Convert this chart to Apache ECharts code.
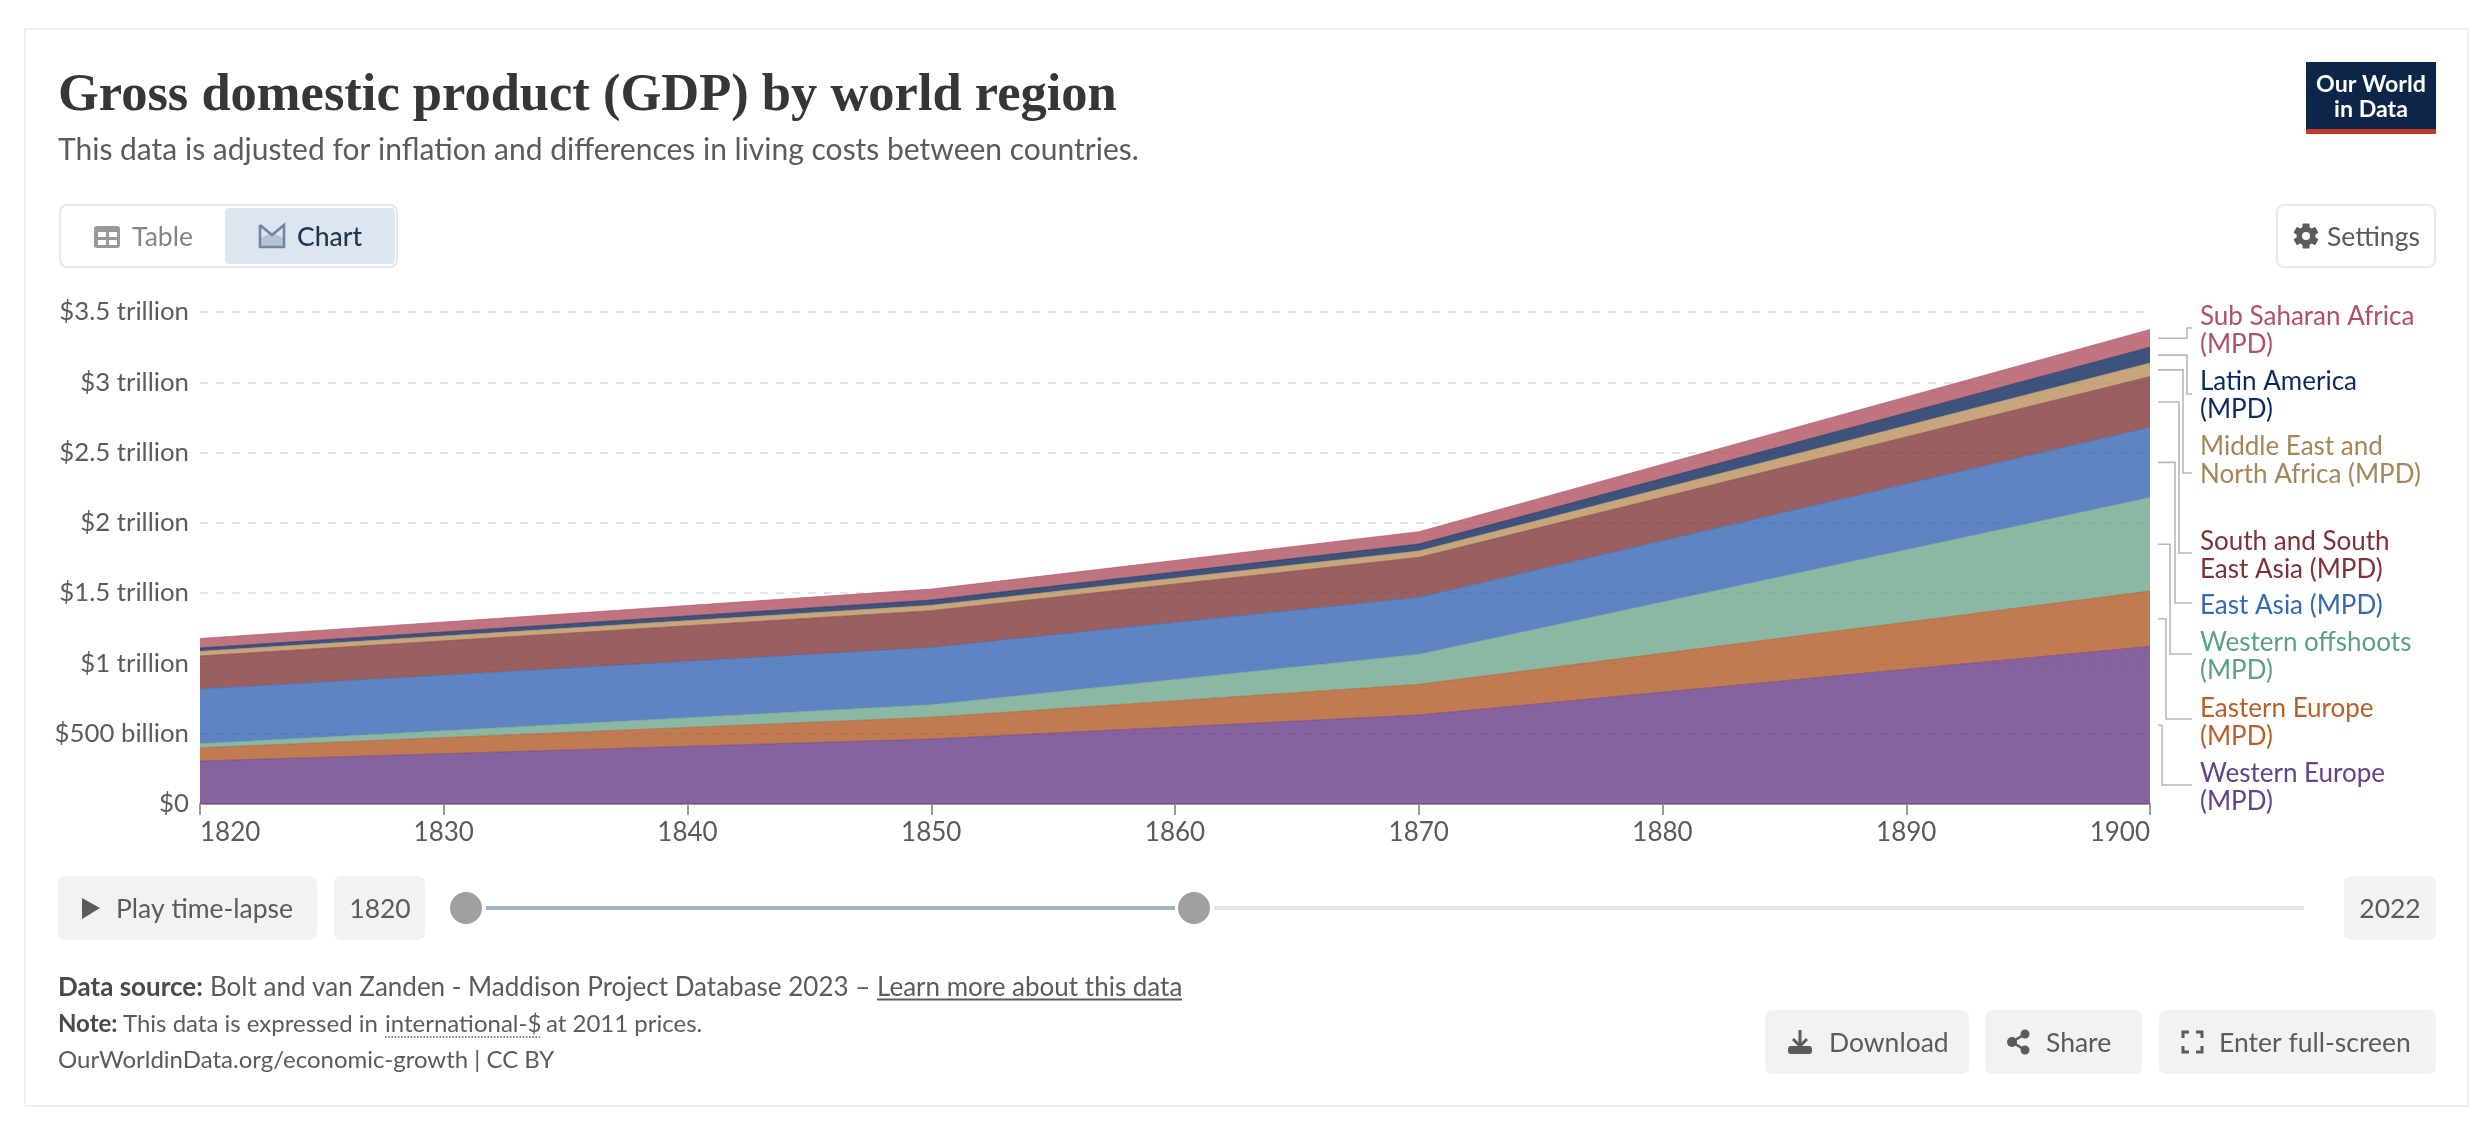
<!DOCTYPE html>
<html style="height: 100%">
<head>
<meta charset="utf-8">
<script src="https://cdn.jsdelivr.net/npm/echarts@6/dist/echarts.min.js"></script>
</head>
<body style="height: 100%; margin: 0; background: #fff">
<div id="container" style="height: 100%"></div>
<script type="text/javascript">
// values in billion international-$
var years = ['1820-01-01', '1850-01-01', '1870-01-01', '1900-01-01'];
var westernEurope = [306, 462, 633, 1121];
var easternEurope = [94, 155, 218, 394];
var westernOffshoots = [29, 89, 214, 665];
var eastAsia = [389, 408, 405, 500];
var southAsia = [235, 261, 284, 360];
var middleEast = [33, 38, 46, 97];
var latinAmerica = [24, 38, 49, 113];
var subSaharan = [68, 78, 88, 126];
var yTickLabels = ['$0', '$500 billion', '$1 trillion', '$1.5 trillion', '$2 trillion', '$2.5 trillion', '$3 trillion', '$3.5 trillion'];

var stackOrder = [
    { name: 'Western Europe (MPD)', lines: ['Western Europe', '(MPD)'], values: westernEurope, fill: '#663C86', text: '#65408E', base: 781, elbow: 2162, end: 785 },
    { name: 'Eastern Europe (MPD)', lines: ['Eastern Europe', '(MPD)'], values: easternEurope, fill: '#B05A27', text: '#B8602A', base: 716, elbow: 2166, end: 719 },
    { name: 'Western offshoots (MPD)', lines: ['Western offshoots', '(MPD)'], values: westernOffshoots, fill: '#6DA68C', text: '#5CA083', base: 650, elbow: 2170, end: 654 },
    { name: 'East Asia (MPD)', lines: ['East Asia (MPD)'], values: eastAsia, fill: '#3765B3', text: '#3568B0', base: 613, elbow: 2175, end: 603 },
    { name: 'South and South East Asia (MPD)', lines: ['South and South', 'East Asia (MPD)'], values: southAsia, fill: '#7F373A', text: '#7E3238', base: 549, elbow: 2179, end: 553 },
    { name: 'Middle East and North Africa (MPD)', lines: ['Middle East and', 'North Africa (MPD)'], values: middleEast, fill: '#B98F5C', text: '#A68558', base: 454, elbow: 2183, end: 473 },
    { name: 'Latin America (MPD)', lines: ['Latin America', '(MPD)'], values: latinAmerica, fill: '#0E285B', text: '#0A2A5E', base: 389, elbow: 2187, end: 394 },
    { name: 'Sub Saharan Africa (MPD)', lines: ['Sub Saharan Africa', '(MPD)'], values: subSaharan, fill: '#B05160', text: '#AE5266', base: 324, elbow: 2187, end: 328 }
];

var GREY = '#5b5b5b';
var FONT = 'Lato';

var myChart = echarts.init(document.getElementById('container'));

myChart.setOption({
    animation: false,
    backgroundColor: '#fff',
    grid: { left: 200, right: 342, top: 312, bottom: 318 },
    xAxis: [{
        // visible year axis
        type: 'value',
        position: 'bottom',
        min: 1820,
        max: 1900,
        interval: 10,
        splitLine: { show: false },
        axisLine: { show: true, onZero: false, lineStyle: { color: '#999', width: 2 } },
        axisTick: { show: true, length: 11, lineStyle: { color: '#999', width: 2 } },
        axisLabel: {
            color: GREY, fontFamily: FONT, fontSize: 26, margin: 16,
            alignMinLabel: 'left', alignMaxLabel: 'right',
            formatter: function (v) { return String(v); }
        }
    }, {
        // hidden time axis over the same span, stacking only works on the y values with this one
        type: 'time',
        position: 'top',
        show: false,
        min: years[0],
        max: years[years.length - 1]
    }],
    yAxis: {
        type: 'value',
        min: 0,
        max: 3500,
        interval: 500,
        axisLine: { show: false },
        axisTick: { show: false },
        splitLine: { lineStyle: { color: '#ddd', width: 1.6, type: [8, 8] } },
        axisLabel: {
            color: GREY, fontFamily: FONT, fontSize: 25.8, margin: 11, padding: [2, 0, 0, 0],
            formatter: function (v) { return yTickLabels[v / 500]; }
        }
    },
    series: stackOrder.map(function (s) {
        return {
            name: s.name,
            type: 'line',
            stack: 'gdp',
            xAxisIndex: 1,
            showSymbol: false,
            data: s.values.map(function (v, i) { return [years[i], v]; }),
            lineStyle: { color: s.fill, width: 1, opacity: 0.6 },
            itemStyle: { color: s.fill },
            areaStyle: { color: s.fill, opacity: 0.8 }
        };
    })
});

function box(x, y, w, h, fill, stroke, r) {
    return {
        type: 'rect', silent: true,
        shape: { x: x, y: y, width: w, height: h, r: r || 0 },
        style: { fill: fill || 'none', stroke: stroke || 'none', lineWidth: stroke ? 2 : 0 }
    };
}
function label(x, baseline, str, size, color, weight, align, family) {
    return {
        type: 'text', silent: true, x: x, y: baseline - size * 0.3,
        style: {
            text: str, fill: color || GREY,
            font: (weight || 400) + ' ' + size + 'px "' + (family || FONT) + '"',
            align: align || 'left', verticalAlign: 'middle'
        }
    };
}
function poly(points, color, width, dash) {
    return {
        type: 'polyline', silent: true, shape: { points: points },
        style: { stroke: color, lineWidth: width, fill: 'none', lineDash: dash || null }
    };
}
function dot(cx, cy, r, fill) {
    return { type: 'circle', silent: true, shape: { cx: cx, cy: cy, r: r }, style: { fill: fill } };
}
function tooth(cx, cy, angle) {
    return {
        type: 'rect', silent: true, x: cx, y: cy, rotation: angle,
        shape: { x: -3.5, y: -12.5, width: 7, height: 25, r: 1 }, style: { fill: GREY }
    };
}

var items = [];

// frame and header
var frame = box(25, 29, 2443, 1077, '#fff', '#f0f0f0');
frame.z = -10;
items.push(frame);
items.push(label(58, 112, 'Gross domestic product (GDP) by world region', 52.5, '#363636', 700, 'left', 'Liberation Serif'));
items.push(label(58, 159, 'This data is adjusted for inflation and differences in living costs between countries.', 30, GREY));

// logo
items.push(box(2306, 62, 130, 72, '#0D2548'));
items.push(box(2306, 129, 130, 5, '#BC3B2D'));
items.push(label(2371, 91, 'Our World', 23.2, '#fff', 700, 'center'));
items.push(label(2371, 116, 'in Data', 23.2, '#fff', 700, 'center'));

// table / chart tabs
items.push(box(60, 205, 337, 62, '#fff', '#e7e7e7', 7));
items.push(box(225, 208, 170, 56, '#DDE5EF', null, 4));
items.push(box(94, 226, 26, 22, '#999', null, 3));
items.push(box(98, 232, 8, 5, '#fff'), box(109, 232, 8, 5, '#fff'), box(98, 240, 8, 5, '#fff'), box(109, 240, 8, 5, '#fff'));
items.push(label(132, 245, 'Table', 26.5, '#858585'));
items.push(poly([[260, 225], [260, 247], [284, 247], [284, 225], [272, 235], [260, 225]], '#6f86a8', 2.6));
items.push({ type: 'polygon', silent: true, shape: { points: [[260, 247], [284, 247], [284, 238], [272, 233], [260, 238]] }, style: { fill: '#6f86a8', opacity: 0.35 } });
items.push(label(297, 245, 'Chart', 26.5, '#1D3557', 500));

// settings
items.push(box(2277, 205, 158, 62, '#fff', '#e7e7e7', 7));
items.push(tooth(2306, 236, 0), tooth(2306, 236, Math.PI / 3), tooth(2306, 236, -Math.PI / 3));
items.push(dot(2306, 236, 9.5, GREY), dot(2306, 236, 4, '#fff'));
items.push(label(2327, 245, 'Settings', 26.5));

// time-lapse controls
items.push(box(58, 876, 259, 64, '#f2f2f2', null, 7));
items.push({ type: 'polygon', silent: true, shape: { points: [[82, 898], [100, 908], [82, 919]] }, style: { fill: GREY } });
items.push(label(116, 917, 'Play time-lapse', 26.5));
items.push(box(334, 876, 91, 64, '#f2f2f2', null, 7));
items.push(label(380, 917, '1820', 26.5, GREY, 400, 'center'));
items.push(box(486, 906, 689, 4, '#A3B3C9'));
items.push(box(1214, 906, 1090, 4, '#e7e7e7'));
items.push(dot(466, 908, 16, '#a0a0a0'), dot(1194, 908, 16, '#a0a0a0'));
items.push(box(2344, 876, 92, 64, '#f2f2f2', null, 7));
items.push(label(2390, 917, '2022', 26.5, GREY, 400, 'center'));

// footer text
items.push(label(58, 995, 'Data source:', 26, '#4a4a4a', 700));
items.push(label(210, 995, 'Bolt and van Zanden - Maddison Project Database 2023 \u2013', 26));
items.push(label(877, 995, 'Learn more about this data', 26));
items.push(box(877, 998.5, 305, 2, GREY));
items.push(label(58, 1031, 'Note:', 24, '#4a4a4a', 700));
items.push(label(123, 1031, 'This data is expressed in', 24));
items.push(label(385, 1031, 'international-$', 24));
items.push(poly([[385, 1037], [540, 1037]], GREY, 1.6, [1.6, 1.6]));
items.push(label(546, 1031, 'at 2011 prices.', 24));
items.push(label(58, 1067, 'OurWorldinData.org/economic-growth | CC BY', 24));

// footer buttons
items.push(box(1765, 1010, 204, 64, '#f2f2f2', null, 7));
items.push(poly([[1800, 1030], [1800, 1046]], GREY, 3), poly([[1793, 1039], [1800, 1046], [1807, 1039]], GREY, 3));
items.push(box(1788, 1046, 24, 8, GREY, null, 3));
items.push(label(1829, 1051, 'Download', 26.5));
items.push(box(1985, 1010, 157, 64, '#f2f2f2', null, 7));
items.push(poly([[2025, 1034], [2012, 1042], [2025, 1050]], GREY, 2.6));
items.push(dot(2025, 1034, 4.5, GREY), dot(2012, 1042, 5, GREY), dot(2025, 1050, 4.5, GREY));
items.push(label(2046, 1051, 'Share', 26.5));
items.push(box(2159, 1010, 277, 64, '#f2f2f2', null, 7));
items.push(poly([[2183, 1038], [2183, 1032], [2189, 1032]], GREY, 3), poly([[2196, 1032], [2202, 1032], [2202, 1038]], GREY, 3));
items.push(poly([[2183, 1046], [2183, 1052], [2189, 1052]], GREY, 3), poly([[2196, 1052], [2202, 1052], [2202, 1046]], GREY, 3));
items.push(label(2219, 1051, 'Enter full-screen', 26.5));

// series labels and connectors, connectors start at the middle of each band in 1900
var running = 0;
stackOrder.forEach(function (s) {
    var last = s.values[s.values.length - 1];
    var p = myChart.convertToPixel({ xAxisIndex: 0, yAxisIndex: 0 }, [1900, running + last / 2]);
    running += last;
    items.push(poly([[p[0] + 8, p[1]], [s.elbow, p[1]], [s.elbow, s.end], [2192, s.end]], '#b8b8b8', 1.6));
    s.lines.forEach(function (line, i) {
        items.push(label(2200, s.base + i * 28.2, line, 26, s.text));
    });
});

myChart.setOption({ graphic: { elements: items } });
</script>
</body>
</html>
